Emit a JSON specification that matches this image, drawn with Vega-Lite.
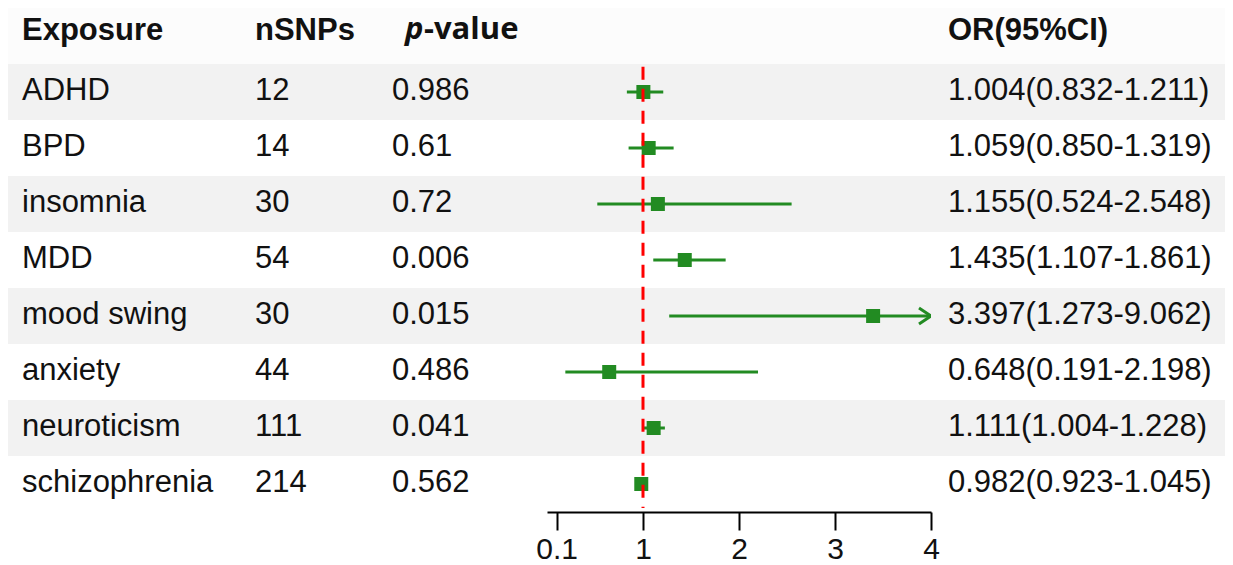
{
  "$schema": "https://vega.github.io/schema/vega-lite/v6.json",
  "padding": {"left": 8, "top": 8, "right": 0, "bottom": 0},
  "autosize": {"type": "pad"},
  "background": "white",
  "bounds": "flush",
  "spacing": 0,
  "config": {
    "view": {"stroke": null},
    "text": {"font": "Liberation Sans", "fontSize": 31, "color": "#111111"}
  },
  "datasets": {
    "rows": [
      {"Exposure": "ADHD", "nSNPs": 12, "pvalue": "0.986", "OR": 1.004, "lower": 0.832, "upper": 1.211, "ci_text": "1.004(0.832-1.211)"},
      {"Exposure": "BPD", "nSNPs": 14, "pvalue": "0.61", "OR": 1.059, "lower": 0.850, "upper": 1.319, "ci_text": "1.059(0.850-1.319)"},
      {"Exposure": "insomnia", "nSNPs": 30, "pvalue": "0.72", "OR": 1.155, "lower": 0.524, "upper": 2.548, "ci_text": "1.155(0.524-2.548)"},
      {"Exposure": "MDD", "nSNPs": 54, "pvalue": "0.006", "OR": 1.435, "lower": 1.107, "upper": 1.861, "ci_text": "1.435(1.107-1.861)"},
      {"Exposure": "mood swing", "nSNPs": 30, "pvalue": "0.015", "OR": 3.397, "lower": 1.273, "upper": 9.062, "ci_text": "3.397(1.273-9.062)"},
      {"Exposure": "anxiety", "nSNPs": 44, "pvalue": "0.486", "OR": 0.648, "lower": 0.191, "upper": 2.198, "ci_text": "0.648(0.191-2.198)"},
      {"Exposure": "neuroticism", "nSNPs": 111, "pvalue": "0.041", "OR": 1.111, "lower": 1.004, "upper": 1.228, "ci_text": "1.111(1.004-1.228)"},
      {"Exposure": "schizophrenia", "nSNPs": 214, "pvalue": "0.562", "OR": 0.982, "lower": 0.923, "upper": 1.045, "ci_text": "0.982(0.923-1.045)"}
    ]
  },
  "resolve": {"scale": {"x": "independent", "y": "shared"}},
  "hconcat": [
    {
      "width": 232, "height": 504,
      "data": {"name": "rows"},
      "layer": [
        {"transform": [{"filter": {"field": "Exposure", "oneOf": ["ADHD", "insomnia", "mood swing", "neuroticism"]}}],
         "mark": {"type": "rect", "color": "#f2f2f2"},
         "encoding": {"y": {"field": "Exposure", "type": "nominal", "axis": null, "scale": {"type": "band", "domain": ["Exposure", "ADHD", "BPD", "insomnia", "MDD", "mood swing", "anxiety", "neuroticism", "schizophrenia"], "paddingInner": 0, "paddingOuter": 0}}}},
        {"data": {"values": [{}]},
         "mark": {"type": "rect", "color": "#fcfcfc"},
         "encoding": {"y": {"datum": "Exposure", "type": "nominal", "axis": null}}},
        {"data": {"values": [{}]},
         "mark": {"type": "text", "align": "left", "baseline": "alphabetic", "dx": 14, "dy": 4, "fontWeight": "bold"},
         "encoding": {"x": {"datum": 0, "type": "quantitative", "scale": {"domain": [0, 1]}, "axis": null},
                      "y": {"datum": "Exposure", "type": "nominal", "axis": null},
                      "text": {"value": "Exposure"}}},
        {"mark": {"type": "text", "align": "left", "baseline": "alphabetic", "dx": 14, "dy": 8},
         "encoding": {"x": {"datum": 0, "type": "quantitative", "scale": {"domain": [0, 1]}, "axis": null},
                      "y": {"field": "Exposure", "type": "nominal", "axis": null},
                      "text": {"field": "Exposure"}}}
      ]
    },
    {
      "width": 145, "height": 504,
      "data": {"name": "rows"},
      "layer": [
        {"transform": [{"filter": {"field": "Exposure", "oneOf": ["ADHD", "insomnia", "mood swing", "neuroticism"]}}],
         "mark": {"type": "rect", "color": "#f2f2f2"},
         "encoding": {"y": {"field": "Exposure", "type": "nominal", "axis": null}}},
        {"data": {"values": [{}]},
         "mark": {"type": "rect", "color": "#fcfcfc"},
         "encoding": {"y": {"datum": "Exposure", "type": "nominal", "axis": null}}},
        {"data": {"values": [{}]},
         "mark": {"type": "text", "align": "left", "baseline": "alphabetic", "dx": 15, "dy": 4, "fontWeight": "bold"},
         "encoding": {"x": {"datum": 0, "type": "quantitative", "scale": {"domain": [0, 1]}, "axis": null},
                      "y": {"datum": "Exposure", "type": "nominal", "axis": null},
                      "text": {"value": "nSNPs"}}},
        {"mark": {"type": "text", "align": "left", "baseline": "alphabetic", "dx": 15, "dy": 8},
         "encoding": {"x": {"datum": 0, "type": "quantitative", "scale": {"domain": [0, 1]}, "axis": null},
                      "y": {"field": "Exposure", "type": "nominal", "axis": null},
                      "text": {"field": "nSNPs", "type": "quantitative"}}}
      ]
    },
    {
      "width": 162, "height": 504,
      "data": {"name": "rows"},
      "layer": [
        {"transform": [{"filter": {"field": "Exposure", "oneOf": ["ADHD", "insomnia", "mood swing", "neuroticism"]}}],
         "mark": {"type": "rect", "color": "#f2f2f2"},
         "encoding": {"y": {"field": "Exposure", "type": "nominal", "axis": null}}},
        {"data": {"values": [{}]},
         "mark": {"type": "rect", "color": "#fcfcfc"},
         "encoding": {"y": {"datum": "Exposure", "type": "nominal", "axis": null}}},
        {"data": {"values": [{}]},
         "mark": {"type": "text", "align": "left", "baseline": "alphabetic", "dx": 20, "dy": 3, "font": "Open Sans", "fontWeight": "bold", "fontStyle": "italic"},
         "encoding": {"x": {"datum": 0, "type": "quantitative", "scale": {"domain": [0, 1]}, "axis": null},
                      "y": {"datum": "Exposure", "type": "nominal", "axis": null},
                      "text": {"value": "p"}}},
        {"data": {"values": [{}]},
         "mark": {"type": "text", "align": "left", "baseline": "alphabetic", "dx": 39, "dy": 3, "font": "Open Sans", "fontWeight": "bold"},
         "encoding": {"x": {"datum": 0, "type": "quantitative", "scale": {"domain": [0, 1]}, "axis": null},
                      "y": {"datum": "Exposure", "type": "nominal", "axis": null},
                      "text": {"value": "-value"}}},
        {"mark": {"type": "text", "align": "left", "baseline": "alphabetic", "dx": 7, "dy": 8},
         "encoding": {"x": {"datum": 0, "type": "quantitative", "scale": {"domain": [0, 1]}, "axis": null},
                      "y": {"field": "Exposure", "type": "nominal", "axis": null},
                      "text": {"field": "pvalue"}}}
      ]
    },
    {
      "width": 384, "height": 504,
      "data": {"name": "rows"},
      "layer": [
        {"transform": [{"filter": {"field": "Exposure", "oneOf": ["ADHD", "insomnia", "mood swing", "neuroticism"]}}],
         "mark": {"type": "rect", "color": "#f2f2f2"},
         "encoding": {"y": {"field": "Exposure", "type": "nominal", "axis": null}}},
        {"data": {"values": [{}]},
         "mark": {"type": "rect", "color": "#fcfcfc"},
         "encoding": {"y": {"datum": "Exposure", "type": "nominal", "axis": null}}},
        {"mark": {"type": "rule", "color": "#228B22", "strokeWidth": 3, "clip": true},
         "encoding": {
           "x": {"field": "lower", "type": "quantitative",
                 "scale": {"domain": [0, 4], "nice": false, "zero": false},
                 "axis": {"orient": "bottom", "values": [0.1, 1, 2, 3, 4], "format": "~g", "title": null, "grid": false,
                          "domainColor": "#000000", "domainWidth": 2, "tickColor": "#000000", "tickWidth": 2, "tickSize": 18,
                          "labelFont": "Liberation Sans", "labelFontSize": 30, "labelColor": "#111111", "labelPadding": 4,
                          "labelFlush": false, "labelOverlap": false}},
           "x2": {"field": "upper"},
           "y": {"field": "Exposure", "type": "nominal", "axis": null}}},
        {"mark": {"type": "point", "shape": "square", "filled": true, "size": 196, "color": "#228B22", "opacity": 1},
         "encoding": {"x": {"field": "OR", "type": "quantitative"},
                      "y": {"field": "Exposure", "type": "nominal", "axis": null}}},
        {"transform": [{"filter": "datum.upper > 4"}],
         "mark": {"type": "point", "shape": "M-1.5,-1L0,0L-1.5,1", "filled": false, "size": 256, "stroke": "#228B22", "strokeWidth": 3, "opacity": 1},
         "encoding": {"x": {"datum": 4, "type": "quantitative"},
                      "y": {"field": "Exposure", "type": "nominal", "axis": null}}},
        {"data": {"values": [{}]},
         "mark": {"type": "rule", "color": "#ff0000", "strokeWidth": 3, "strokeDash": [13, 9]},
         "encoding": {"x": {"datum": 1, "type": "quantitative"},
                      "y": {"datum": "ADHD", "type": "nominal", "bandPosition": 0.05, "axis": null},
                      "y2": {"datum": "schizophrenia", "bandPosition": 0.93}}}
      ]
    },
    {
      "width": 294, "height": 504,
      "data": {"name": "rows"},
      "layer": [
        {"transform": [{"filter": {"field": "Exposure", "oneOf": ["ADHD", "insomnia", "mood swing", "neuroticism"]}}],
         "mark": {"type": "rect", "color": "#f2f2f2"},
         "encoding": {"y": {"field": "Exposure", "type": "nominal", "axis": null}}},
        {"data": {"values": [{}]},
         "mark": {"type": "rect", "color": "#fcfcfc"},
         "encoding": {"y": {"datum": "Exposure", "type": "nominal", "axis": null}}},
        {"data": {"values": [{}]},
         "mark": {"type": "text", "align": "left", "baseline": "alphabetic", "dx": 17, "dy": 4, "fontWeight": "bold"},
         "encoding": {"x": {"datum": 0, "type": "quantitative", "scale": {"domain": [0, 1]}, "axis": null},
                      "y": {"datum": "Exposure", "type": "nominal", "axis": null},
                      "text": {"value": "OR(95%CI)"}}},
        {"mark": {"type": "text", "align": "left", "baseline": "alphabetic", "dx": 17, "dy": 8},
         "encoding": {"x": {"datum": 0, "type": "quantitative", "scale": {"domain": [0, 1]}, "axis": null},
                      "y": {"field": "Exposure", "type": "nominal", "axis": null},
                      "text": {"field": "ci_text"}}}
      ]
    }
  ]
}
